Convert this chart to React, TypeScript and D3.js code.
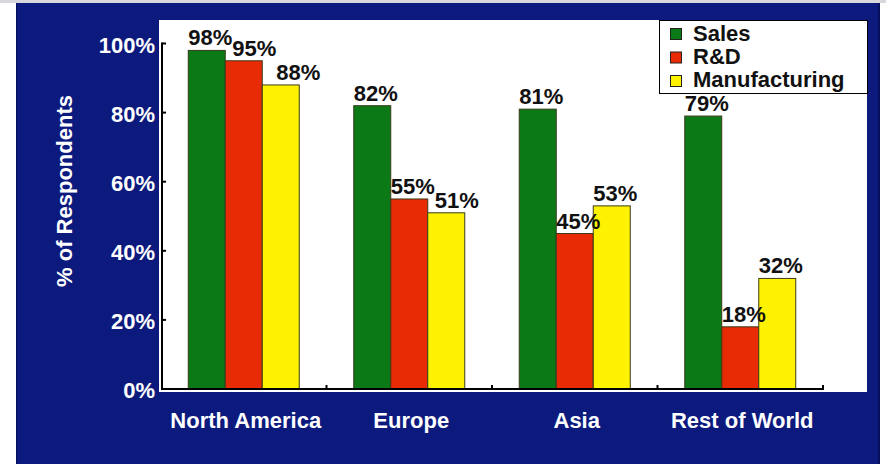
import React from "react";
import * as d3 from "d3";

const categories = ["North America", "Europe", "Asia", "Rest of World"];
const seriesNames = ["Sales", "R&D", "Manufacturing"];
const sales = [98, 82, 81, 79];
const rnd = [95, 55, 45, 18];
const manufacturing = [88, 51, 53, 32];
const yTicks = [0, 20, 40, 60, 80, 100];

const colors = ["#0b7a16", "#e82b04", "#fff200"];
const NAVY = "#0c1a7e";
const FONT = "'Liberation Sans', Arial, Helvetica, sans-serif";

export default function App() {
  const W = 886, H = 464;
  const seriesValues = [sales, rnd, manufacturing];
  const y = d3.scaleLinear().domain([0, 100]).range([389, 43.5]);
  const x0 = d3.scaleBand<string>().domain(categories).range([161, 823]).padding(0);
  const groupW = 111;
  const x1 = d3.scaleBand<string>().domain(seriesNames).range([0, groupW]).padding(0);
  const off = (x0.bandwidth() - groupW) / 2;
  const fs = 22;
  const labelW = (2 * 0.556 + 0.889) * 21;

  const bars: any[] = [];
  const labels: any[] = [];
  categories.forEach((c, ci) => {
    let prev: { x: number; base: number } | null = null;
    seriesNames.forEach((s, si) => {
      const v = seriesValues[si][ci];
      const bx = (x0(c) as number) + off + (x1(s) as number);
      const by = y(v);
      bars.push({ key: c + s, x: bx, y: by, w: x1.bandwidth(), h: y(0) - by, fill: colors[si] });
      let lx = bx;
      const base = by - 5;
      if (prev && Math.abs(base - prev.base) < 26 && lx < prev.x + labelW + 2) {
        lx = prev.x + labelW + 2;
      }
      labels.push({ key: c + s + "l", x: lx, y: base, text: v + "%" });
      prev = { x: lx, base };
    });
  });

  const boundaries = categories.map((c) => (x0(c) as number) + x0.bandwidth());

  return (
    <svg width={W} height={H} style={{ position: "absolute", left: 0, top: 0 }} fontFamily={FONT}>
      <rect x={0} y={0} width={W} height={H} fill="#ffffff" />
      <rect x={0} y={0} width={W} height={3} fill="#d8d8dc" />
      <rect x={16} y={3} width={864} height={461} fill="#060f5e" />
      <rect x={17} y={3} width={861} height={461} fill={NAVY} />
      {/* plot area */}
      <rect x={159} y={20} width={708} height={372} fill="#ffffff" />
      {bars.map((b) => (
        <rect key={b.key} x={b.x} y={b.y} width={b.w} height={b.h} fill={b.fill} stroke="#3a3a1a" strokeWidth={1} />
      ))}
      {labels.map((l) => (
        <text key={l.key} x={l.x} y={l.y} fontSize={fs} fontWeight="bold" fill="#111">
          {l.text}
        </text>
      ))}
      {/* axes */}
      <line x1={162} y1={y(100) - 1} x2={162} y2={390} stroke="#000" strokeWidth={2} />
      <line x1={161} y1={389} x2={824} y2={389} stroke="#000" strokeWidth={2} />
      {yTicks.map((t) => (
        <g key={"yt" + t}>
          <line x1={162} y1={y(t)} x2={166} y2={y(t)} stroke="#000" strokeWidth={2} />
          <text x={155} y={y(t) + 9} textAnchor="end" fontSize={fs} fontWeight="bold" fill="#fff">
            {t + "%"}
          </text>
        </g>
      ))}
      {boundaries.map((bx, i) => (
        <line key={"xt" + i} x1={bx} y1={389} x2={bx} y2={385} stroke="#000" strokeWidth={2} />
      ))}
      {categories.map((c) => (
        <text key={"xl" + c} x={(x0(c) as number) + x0.bandwidth() / 2 + 2} y={428} textAnchor="middle" fontSize={fs} fontWeight="bold" fill="#fff">
          {c}
        </text>
      ))}
      <text transform={`translate(72,191) rotate(-90)`} textAnchor="middle" fontSize={fs} fontWeight="bold" fill="#fff">
        % of Respondents
      </text>
      {/* legend */}
      <rect x={659.5} y={20.5} width={208} height={73} fill="#fff" stroke="#000" strokeWidth={1} />
      {seriesNames.map((s, i) => (
        <g key={"lg" + s}>
          <rect x={670.5} y={28.5 + i * 23.5} width={11} height={11} fill={colors[i]} stroke="#222" strokeWidth={1} />
          <text x={693} y={41 + i * 23} fontSize={fs} fontWeight="bold" fill="#111">
            {s}
          </text>
        </g>
      ))}
    </svg>
  );
}
